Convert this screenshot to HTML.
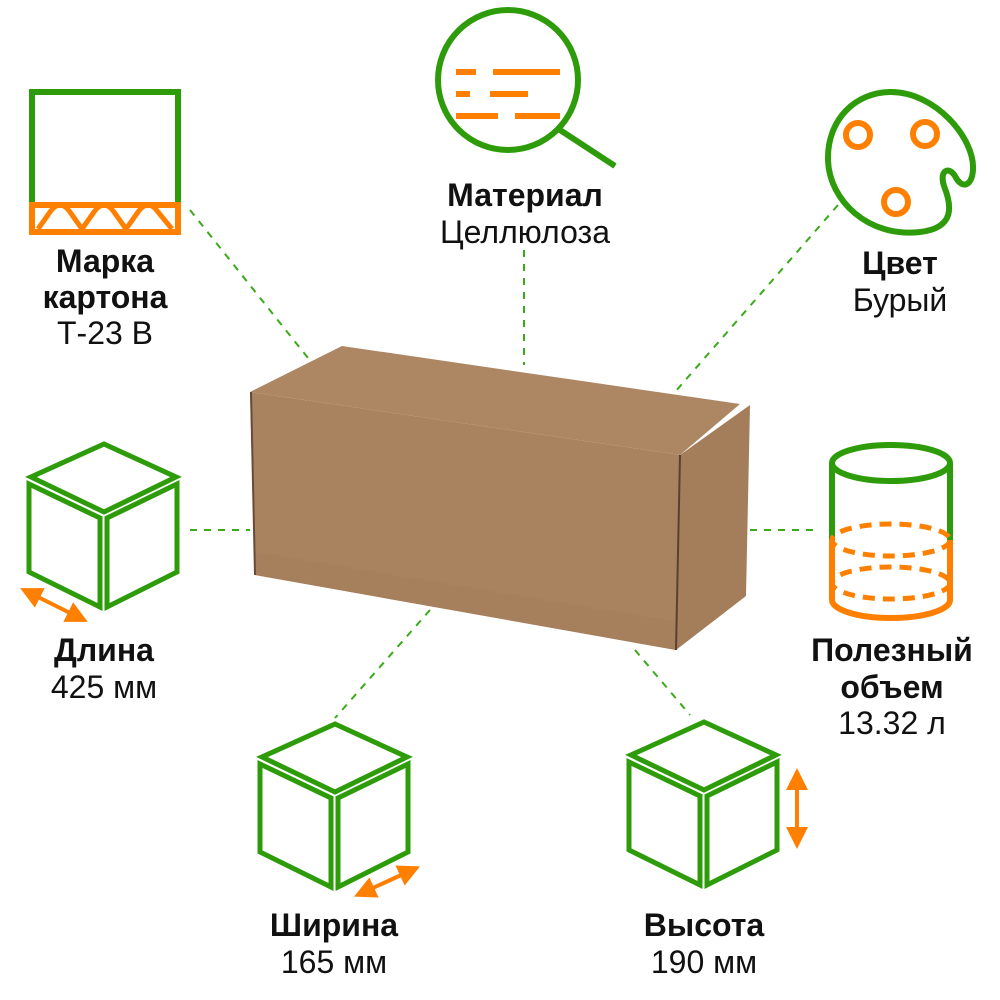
<!DOCTYPE html>
<html><head><meta charset="utf-8"><style>
body{margin:0;background:#fff}
svg{display:block}
text{font-family:"Liberation Sans",sans-serif;fill:#111;text-anchor:middle}
.b{font-weight:bold;font-size:32px}
.r{font-size:32px}
</style></head><body>
<svg width="1000" height="1000" viewBox="0 0 1000 1000" xmlns="http://www.w3.org/2000/svg">
<defs>
<g id="cube" fill="none" stroke="#2e9c0a" stroke-width="5" stroke-linejoin="miter">
<polygon points="77,2 4,35 77,70 149,35"/>
<polygon points="2,42 73,76 73,165 2,130"/>
<polygon points="80,76 150,42 150,130 80,165"/>
</g>
<marker id="ah" viewBox="0 0 10 10" refX="5" refY="5" markerWidth="5.5" markerHeight="6" orient="auto-start-reverse"><path d="M0,0 L10,5 L0,10 Z" fill="#ff8000"/></marker>
</defs>
<g stroke="#3aaa1a" stroke-width="2" stroke-dasharray="7,7" fill="none">
<line x1="190" y1="210" x2="308" y2="358"/>
<line x1="524" y1="250" x2="524" y2="365"/>
<line x1="838" y1="205" x2="675" y2="392"/>
<line x1="190" y1="530" x2="250" y2="530"/>
<line x1="750" y1="530" x2="818" y2="530"/>
<line x1="430" y1="610" x2="335" y2="718"/>
<line x1="635" y1="650" x2="690" y2="715"/>
</g>
<polygon points="250,392 342,346 740,404 680,455" fill="#ad8764"/>
<polygon points="250,392 680,455 676,650 255,575" fill="#a9825f"/>
<polygon points="680,455 750,405 746,596 676,650" fill="#a47d5a"/>
<polygon points="255,552 676,622 676,650 255,575" fill="#a67f5c"/>
<line x1="680" y1="455" x2="676" y2="650" stroke="#5a4030" stroke-width="2"/>
<line x1="251" y1="392" x2="255" y2="575" stroke="#6a4a36" stroke-width="2"/>
<polyline points="32,205 32,92 178,92 178,205" fill="none" stroke="#2e9c0a" stroke-width="6"/>
<rect x="32" y="205" width="146" height="27" fill="none" stroke="#ff8000" stroke-width="6"/>
<path d="M38,229 L50,212 Q60,198 70,212 L82,229 L94,212 Q104,198 114,212 L126,229 L138,212 Q148,198 158,212 L172,229" fill="none" stroke="#ff8000" stroke-width="5"/>
<text class="b" x="105" y="272">Марка</text>
<text class="b" x="105" y="308">картона</text>
<text class="r" x="105" y="344">Т-23 В</text>
<circle cx="508" cy="80" r="70" fill="none" stroke="#2e9c0a" stroke-width="6"/>
<line x1="560" y1="130" x2="615" y2="166" stroke="#2e9c0a" stroke-width="6"/>
<g stroke="#ff8000" stroke-width="6">
<line x1="456" y1="72" x2="476" y2="72"/><line x1="493" y1="72" x2="560" y2="72"/>
<line x1="456" y1="94" x2="470" y2="94"/><line x1="490" y1="94" x2="528" y2="94"/>
<line x1="456" y1="116" x2="498" y2="116"/><line x1="515" y1="116" x2="560" y2="116"/>
</g>
<text class="b" x="525" y="206">Материал</text>
<text class="r" x="525" y="243">Целлюлоза</text>
<path d="M891,92 C935,92 975,138 973,170 C972,186 962,190 955,176 C949,166 939,170 944,186 C952,206 955,228 920,232 C868,238 829,200 828,160 C827,120 855,92 891,92 Z" fill="none" stroke="#2e9c0a" stroke-width="6"/>
<g fill="none" stroke="#ff8000" stroke-width="6"><circle cx="858" cy="135" r="12"/><circle cx="925" cy="134" r="12"/><circle cx="896" cy="202" r="12"/></g>
<text class="b" x="900" y="274">Цвет</text>
<text class="r" x="900" y="311">Бурый</text>
<use href="#cube" x="27" y="442"/>
<line x1="30" y1="593" x2="78" y2="617" stroke="#ff8000" stroke-width="4" marker-start="url(#ah)" marker-end="url(#ah)"/>
<text class="b" x="104" y="661">Длина</text>
<text class="r" x="104" y="698">425 мм</text>
<path d="M832,540 L832,463 M950,463 L950,540" stroke="#2e9c0a" stroke-width="6" fill="none"/>
<ellipse cx="891" cy="463" rx="59" ry="18" fill="none" stroke="#2e9c0a" stroke-width="6"/>
<path d="M832,540 L832,600 M950,540 L950,600 M832,600 A59,18 0 0 0 950,600" stroke="#ff8000" stroke-width="6" fill="none"/>
<ellipse cx="891" cy="540" rx="59" ry="16" fill="none" stroke="#ff8000" stroke-width="5" stroke-dasharray="12,8"/>
<ellipse cx="891" cy="583" rx="59" ry="16" fill="none" stroke="#ff8000" stroke-width="5" stroke-dasharray="12,8"/>
<text class="b" x="892" y="661">Полезный</text>
<text class="b" x="892" y="698">объем</text>
<text class="r" x="892" y="734">13.32 л</text>
<use href="#cube" x="258" y="722"/>
<line x1="364" y1="892" x2="410" y2="871" stroke="#ff8000" stroke-width="4" marker-start="url(#ah)" marker-end="url(#ah)"/>
<text class="b" x="334" y="936">Ширина</text>
<text class="r" x="334" y="973">165 мм</text>
<use href="#cube" x="627" y="720"/>
<line x1="797" y1="779" x2="797" y2="838" stroke="#ff8000" stroke-width="4" marker-start="url(#ah)" marker-end="url(#ah)"/>
<text class="b" x="704" y="936">Высота</text>
<text class="r" x="704" y="973">190 мм</text>
</svg>
</body></html>
